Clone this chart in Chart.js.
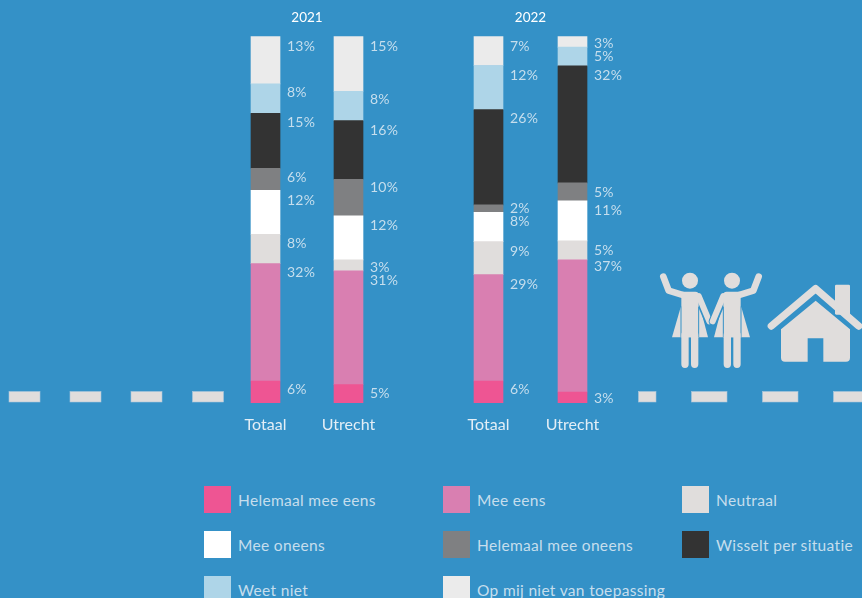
<!DOCTYPE html>
<html>
<head>
<meta charset="utf-8">
<title>2021 / 2022</title>
<script src="https://cdn.jsdelivr.net/npm/chart.js@4/dist/chart.umd.min.js"></script>
<style>
  html, body { margin: 0; padding: 0; width: 862px; height: 598px; overflow: hidden; background: #3491c7; }
  body { position: relative; font-family: Lato, sans-serif; }
  .chartBox { position: absolute; top: 0; height: 440px; }
  #chart2021Box { left: 200px; width: 214px; }
  #chart2022Box { left: 422px; width: 216px; }
  #road, #icons { position: absolute; }
  #road { left: 0; top: 380px; }
  #icons { left: 630px; top: 250px; }
  .legendItem { position: absolute; height: 27px; line-height: 29px; font-size: 15.5px; letter-spacing: 0.33px; color: #c6deed; white-space: nowrap; padding-left: 34px; }
  .legendItem i { position: absolute; left: 0; top: 0; width: 27px; height: 27px; }
</style>
</head>
<body>

<svg id="road" width="862" height="40">
  <g fill="#e0dddc" stroke="#a9c6dc" stroke-width="0.6">
    <rect x="9" y="11.5" width="31" height="10.5"/>
    <rect x="70" y="11.5" width="31" height="10.5"/>
    <rect x="131" y="11.5" width="31" height="10.5"/>
    <rect x="192.5" y="11.5" width="31" height="10.5"/>
    <rect x="638.5" y="11.5" width="17.5" height="10.5"/>
    <rect x="691.5" y="11.5" width="35.5" height="10.5"/>
    <rect x="762.5" y="11.5" width="35.5" height="10.5"/>
    <rect x="833.5" y="11.5" width="35.5" height="10.5"/>
  </g>
</svg>

<svg id="icons" width="232" height="160" viewBox="0 0 696 480">
  <defs>
    <g id="person">
      <path d="M152 172 L126 262 H234 L207 158 Z" fill="#e0dddc"/>
      <path d="M100 80 L116 122 L162 136" fill="none" stroke="#e0dddc" stroke-width="20" stroke-linecap="round" stroke-linejoin="round"/>
      <path d="M205 138 L237 214" fill="none" stroke="#3491c7" stroke-width="26" stroke-linecap="round"/>
      <path d="M206 138 L238 214" fill="none" stroke="#e0dddc" stroke-width="18" stroke-linecap="round"/>
      <path d="M154 125 H196 Q206 125 206 135 V262 H154 Z" fill="#e0dddc"/>
      <path d="M153 170 V262 M206 170 V262" stroke="#3491c7" stroke-width="3" fill="none"/>
      <circle cx="180" cy="92" r="24" fill="#e0dddc"/>
      <path d="M165 255 V343 M194 255 V343" stroke="#e0dddc" stroke-width="22" stroke-linecap="round" fill="none"/>
    </g>
  </defs>
  <use href="#person"/>
  <use href="#person" transform="translate(486,0) scale(-1,1)"/>
  <g fill="#e0dddc">
    <rect x="615" y="104" width="45" height="90" rx="4"/>
    <path d="M424 228 L557 116 L686 228" fill="none" stroke="#e0dddc" stroke-width="22" stroke-linecap="round" stroke-linejoin="round"/>
    <path d="M453 238 L557 152 L660 238 V323 Q660 335 648 335 H580 V265 H533 V335 H465 Q453 335 453 323 Z"/>
  </g>
</svg>

<div class="chartBox" id="chart2021Box"><canvas id="chart2021"></canvas></div>
<div class="chartBox" id="chart2022Box"><canvas id="chart2022"></canvas></div>
<div id="legend"></div>

<script>
const categories = ["Totaal", "Utrecht"];
const years = ["2021", "2022"];

// order per array: Totaal 2021, Utrecht 2021, Totaal 2022, Utrecht 2022
const helemaalMeeEens = [6, 5, 6, 3];
const meeEens = [32, 31, 29, 36];
const neutraal = [8, 3, 9, 5.2];
const meeOneens = [12, 12, 8, 10.9];
const helemaalMeeOneens = [6, 10, 2, 4.9];
const wisseltPerSituatie = [15, 16, 26, 31.9];
const weetNiet = [8, 8, 12, 5.1];
const nietVanToepassing = [13, 15, 8, 3];

// printed percentages, these do not always add up to 100 in the source
const helemaalMeeEensLabels = ["6%", "5%", "6%", "3%"];
const meeEensLabels = ["32%", "31%", "29%", "37%"];
const neutraalLabels = ["8%", "3%", "9%", "5%"];
const meeOneensLabels = ["12%", "12%", "8%", "11%"];
const helemaalMeeOneensLabels = ["6%", "10%", "2%", "5%"];
const wisseltPerSituatieLabels = ["15%", "16%", "26%", "32%"];
const weetNietLabels = ["8%", "8%", "12%", "5%"];
const nietVanToepassingLabels = ["13%", "15%", "7%", "3%"];

const series = [
  { name: "Helemaal mee eens", values: helemaalMeeEens, labels: helemaalMeeEensLabels, color: "#ee5593" },
  { name: "Mee eens", values: meeEens, labels: meeEensLabels, color: "#d97fb1" },
  { name: "Neutraal", values: neutraal, labels: neutraalLabels, color: "#e0dddc" },
  { name: "Mee oneens", values: meeOneens, labels: meeOneensLabels, color: "#ffffff" },
  { name: "Helemaal mee oneens", values: helemaalMeeOneens, labels: helemaalMeeOneensLabels, color: "#7f8082" },
  { name: "Wisselt per situatie", values: wisseltPerSituatie, labels: wisseltPerSituatieLabels, color: "#333333" },
  { name: "Weet niet", values: weetNiet, labels: weetNietLabels, color: "#aed5e8" },
  { name: "Op mij niet van toepassing", values: nietVanToepassing, labels: nietVanToepassingLabels, color: "#ebebeb" }
];

// how far below the top of its segment each label sits, same order as the series
const labelDrop = [
  [8.5, 9, 8.5, 6],
  [9, 9.5, 9.5, 6.5],
  [9, 7.5, 9.5, 10],
  [10, 9.5, 9.5, 10],
  [9, 8.5, 3.5, 10],
  [9.5, 9.5, 8.5, 10],
  [8.5, 8.5, 9.5, 9.5],
  [10, 10, 10, 7]
];

// percent labels next to the bars
const barLabels = {
  id: "barLabels",
  afterDatasetsDraw(chart, args, opts) {
    const ctx = chart.ctx;
    ctx.save();
    ctx.font = "14px Lato, sans-serif";
    ctx.letterSpacing = "0.2px";
    ctx.fillStyle = "#c6deed";
    ctx.textBaseline = "middle";
    chart.data.datasets.forEach((ds, i) => {
      chart.getDatasetMeta(i).data.forEach((bar, j) => {
        const k = opts.firstBar + j;
        ctx.fillText(series[i].labels[k], bar.x + 21.5, bar.y + labelDrop[i][k]);
      });
    });
    ctx.restore();
  }
};

function makeChart(id, year, firstBar, padLeft, padRight) {
  return new Chart(document.getElementById(id), {
    type: "bar",
    data: {
      labels: categories,
      datasets: series.map(s => ({
        label: s.name,
        data: s.values.slice(firstBar, firstBar + 2),
        backgroundColor: s.color,
        borderWidth: 0,
        barThickness: 29
      }))
    },
    options: {
      responsive: true,
      maintainAspectRatio: false,
      animation: false,
      layout: { padding: { left: padLeft, right: padRight, top: 0, bottom: 0 } },
      plugins: {
        legend: { display: false },
        tooltip: { enabled: false },
        barLabels: { firstBar: firstBar },
        title: {
          display: true,
          text: year,
          color: "#ffffff",
          font: { family: "Lato, sans-serif", size: 13.5, weight: "normal" },
          padding: { top: 10, bottom: 10 }
        }
      },
      scales: {
        x: {
          stacked: true,
          grid: { display: false },
          border: { display: false },
          ticks: { color: "#e3eef6", font: { family: "Lato, sans-serif", size: 16 }, padding: 4 },
          afterFit(scale) { scale.height = 37; }
        },
        y: { stacked: true, display: false, min: 0, max: 100 }
      }
    },
    plugins: [barLabels]
  });
}

makeChart("chart2021", years[0], 0, 24, 24);
makeChart("chart2022", years[1], 2, 24.5, 23.5);

// legend is three columns, filled row by row
const legendBox = document.getElementById("legend");
const legendX = [204, 443, 682];
const legendY = [486, 531, 576];
series.forEach((s, i) => {
  const item = document.createElement("div");
  item.className = "legendItem";
  item.style.left = legendX[i % 3] + "px";
  item.style.top = legendY[Math.floor(i / 3)] + "px";
  item.innerHTML = '<i style="background:' + s.color + '"></i>' + s.name;
  legendBox.appendChild(item);
});
</script>
</body>
</html>
